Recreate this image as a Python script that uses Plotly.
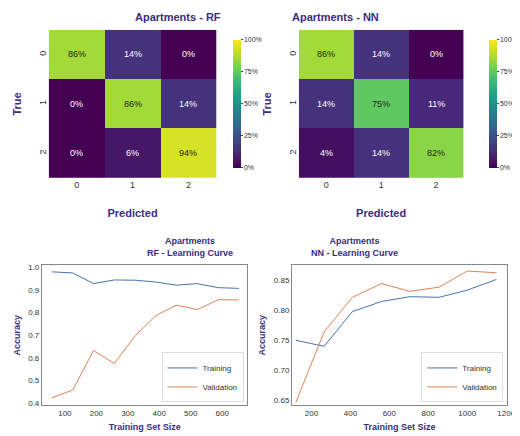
import plotly.graph_objects as go

classes = ["0", "1", "2"]
rf_cm = [[86, 14, 0], [0, 86, 14], [0, 6, 94]]
nn_cm = [[86, 14, 0], [14, 75, 11], [4, 14, 82]]

rf_sizes = [59, 125, 191, 257, 323, 389, 455, 521, 587, 653]
rf_train = [0.980, 0.975, 0.928, 0.944, 0.943, 0.935, 0.921, 0.928, 0.910, 0.907]
rf_val = [0.424, 0.458, 0.633, 0.575, 0.697, 0.787, 0.833, 0.813, 0.857, 0.856]

nn_sizes = [120, 265, 410, 560, 705, 855, 1000, 1150]
nn_train = [0.750, 0.740, 0.798, 0.815, 0.823, 0.822, 0.834, 0.852]
nn_val = [0.646, 0.764, 0.822, 0.845, 0.832, 0.839, 0.866, 0.863]

PUR = "#3b2d80"
TF = dict(family="Liberation Sans", size=11, color=PUR)
fig = go.Figure()
W, H = 520, 436

def heat(cm, xa, ya, dom_x, dom_y, cbx, title, idx):
    fig.add_trace(go.Heatmap(z=cm, x=classes, y=classes, colorscale="Viridis", zmin=0, zmax=100,
                             xaxis=xa, yaxis=ya, xgap=0, ygap=0,
                             colorbar=dict(x=cbx, xanchor="left", y=(dom_y[0]+dom_y[1])/2, len=dom_y[1]-dom_y[0],
                                           thickness=8, outlinewidth=0, tickvals=[0, 25, 50, 75, 100],
                                           ticktext=["0%", "25%", "50%", "75%", "100%"], ticks="outside", ticklen=2,
                                           tickfont=dict(size=7, color="#333"))))
    for i, row in enumerate(cm):
        for j, v in enumerate(row):
            fig.add_annotation(x=classes[j], y=classes[i], xref=xa, yref=ya, text=f"{v}%", showarrow=False,
                               font=dict(size=9, color="#222" if v >= 60 else "white"))
    ax = "xaxis" + (str(idx) if idx > 1 else "")
    ay = "yaxis" + (str(idx) if idx > 1 else "")
    fig.layout[ax] = dict(domain=dom_x, anchor=ya, showgrid=False, zeroline=False, ticks="",
                          tickfont=dict(size=9, color="#333"),
                          title=dict(text="<b>Predicted</b>", font=TF, standoff=20))
    fig.layout[ay] = dict(domain=dom_y, anchor=xa, autorange="reversed", showgrid=False, zeroline=False,
                          tickangle=-90, tickfont=dict(size=9, color="#333"),
                          title=dict(text="<b>True</b>", font=TF, standoff=14))
    fig.add_annotation(x=(dom_x[0]+dom_x[1])/2, y=dom_y[1]+0.01, xref="paper", yref="paper", yanchor="bottom",
                       text=f"<b>{title}</b>", showarrow=False, font=TF)

heat(rf_cm, "x", "y", [42/W, 215/W], [1-170/H, 1-20/H], 222/W, "Apartments - RF", 1)
heat(nn_cm, "x2", "y2", [300/W, 470/W], [1-170/H, 1-20/H], 486/W, "Apartments - NN", 2)

BLUE, ORANGE = "#4c72b0", "#dd8452"
def curve(xs, tr, va, xa, ya, dom_x, dom_y, idx, title, yr, ydt, yfmt, xr, xdt, legname):
    fig.add_trace(go.Scatter(x=xs, y=tr, mode="lines", name="Training", line=dict(color=BLUE, width=1),
                             xaxis=xa, yaxis=ya, legend=legname))
    fig.add_trace(go.Scatter(x=xs, y=va, mode="lines", name="Validation", line=dict(color=ORANGE, width=1),
                             xaxis=xa, yaxis=ya, legend=legname))
    fig.layout["xaxis" + str(idx)] = dict(domain=dom_x, anchor=ya, range=xr, dtick=xdt, showgrid=False, zeroline=False,
                                          showline=True, mirror=True, linecolor="#888", linewidth=1,
                                          tickfont=dict(size=8, color="#333"),
                                          title=dict(text="<b>Training Set Size</b>", font=dict(family="Liberation Sans", size=9, color=PUR), standoff=6))
    fig.layout["yaxis" + str(idx)] = dict(domain=dom_y, anchor=xa, range=yr, dtick=ydt, tickformat=yfmt,
                                          showgrid=False, zeroline=False,
                                          showline=True, mirror=True, linecolor="#888", linewidth=1,
                                          tickfont=dict(size=8, color="#333"),
                                          title=dict(text="<b>Accuracy</b>", font=dict(family="Liberation Sans", size=9, color=PUR), standoff=6))
    fig.add_annotation(x=(dom_x[0]+dom_x[1])/2, y=dom_y[1]+0.012, xref="paper", yref="paper", yanchor="bottom",
                       text=f"<b>{title}</b>", showarrow=False, font=dict(family="Liberation Sans", size=9, color=PUR))

curve(rf_sizes, rf_train, rf_val, "x3", "y3", [35/W, 247/W], [1-400/H, 1-258/H], 3,
      "Apartments<br>RF - Learning Curve", [0.39, 1.01], 0.1, ".1f", [27, 680], 100, "legend")
curve(nn_sizes, nn_train, nn_val, "x4", "y4", [293/W, 515/W], [1-400/H, 1-258/H], 4,
      "Apartments<br>NN - Learning Curve", [0.641, 0.876], 0.05, ".2f", [100, 1205], 200, "legend2")

legstyle = dict(bgcolor="white", bordercolor="#ddd", borderwidth=1, font=dict(size=8, color="#333"),
                xanchor="right", yanchor="bottom", itemwidth=30, tracegroupgap=0)
fig.update_layout(width=W, height=H, margin=dict(l=0, r=0, t=0, b=0), paper_bgcolor="white", plot_bgcolor="white",
                  font=dict(family="Liberation Sans"),
                  legend=dict(x=243/W, y=1-397/H, **legstyle),
                  legend2=dict(x=511/W, y=1-397/H, **legstyle))
fig.write_html("out.html")
